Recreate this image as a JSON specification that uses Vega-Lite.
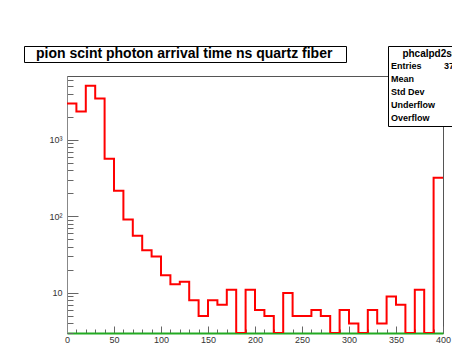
{
  "$schema": "https://vega.github.io/schema/vega-lite/v6.json",
  "width": 376,
  "height": 257,
  "autosize": "none",
  "padding": {"left": 67, "top": 76, "right": 9, "bottom": 14},
  "background": "white",
  "config": {
    "view": {"stroke": "#555555", "strokeWidth": 1},
    "font": "Liberation Sans"
  },
  "layer": [
    {
      "data": {
        "values": [
          {"t": 0, "n": 2980}, {"t": 10, "n": 2340}, {"t": 20, "n": 5070}, {"t": 30, "n": 3460},
          {"t": 40, "n": 565}, {"t": 50, "n": 216}, {"t": 60, "n": 91}, {"t": 70, "n": 56},
          {"t": 80, "n": 36}, {"t": 90, "n": 30}, {"t": 100, "n": 17}, {"t": 110, "n": 13},
          {"t": 120, "n": 14}, {"t": 130, "n": 8}, {"t": 140, "n": 5}, {"t": 150, "n": 8},
          {"t": 160, "n": 7}, {"t": 170, "n": 11}, {"t": 180, "n": 0}, {"t": 190, "n": 11},
          {"t": 200, "n": 6}, {"t": 210, "n": 5}, {"t": 220, "n": 0}, {"t": 230, "n": 10},
          {"t": 240, "n": 5}, {"t": 250, "n": 5}, {"t": 260, "n": 6}, {"t": 270, "n": 5},
          {"t": 280, "n": 0}, {"t": 290, "n": 6}, {"t": 300, "n": 4}, {"t": 310, "n": 0},
          {"t": 320, "n": 6}, {"t": 330, "n": 4}, {"t": 340, "n": 9}, {"t": 350, "n": 7},
          {"t": 360, "n": 0}, {"t": 370, "n": 11}, {"t": 380, "n": 0}, {"t": 390, "n": 320},
          {"t": 400, "n": 320}
        ]
      },
      "mark": {"type": "line", "interpolate": "step-after", "color": "#ff0000", "strokeWidth": 2, "invalid": "show", "clip": true},
      "encoding": {
        "x": {
          "field": "t", "type": "quantitative",
          "scale": {"domain": [0, 400], "nice": false, "zero": false},
          "axis": {
            "title": null,
            "values": [0,10,20,30,40,50,60,70,80,90,100,110,120,130,140,150,160,170,180,190,200,210,220,230,240,250,260,270,280,290,300,310,320,330,340,350,360,370,380,390,400],
            "labelExpr": "datum.value % 50 == 0 ? datum.label : ''",
            "tickSize": {"condition": {"test": "datum.value % 50 == 0", "value": -7}, "value": -4},
            "tickColor": "#666666",
            "domainColor": "#22aa22",
            "domainWidth": 2,
            "labelColor": "#333333",
            "labelFontSize": 9,
            "labelPadding": 9,
            "labelFlush": false,
            "grid": false
          }
        },
        "y": {
          "field": "n", "type": "quantitative",
          "scale": {"type": "log", "domain": [3, 6800], "nice": false, "clamp": true},
          "axis": {
            "title": null,
            "values": [3,4,5,6,7,8,9,10,20,30,40,50,60,70,80,90,100,200,300,400,500,600,700,800,900,1000,2000,3000,4000,5000,6000],
            "labelExpr": "datum.value == 10 ? '10' : datum.value == 100 ? '10²' : datum.value == 1000 ? '10³' : ''",
            "tickSize": {"condition": {"test": "datum.value == 10 || datum.value == 100 || datum.value == 1000", "value": -11}, "value": -6},
            "tickColor": "#666666",
            "domainColor": "#888888",
            "labelColor": "#333333",
            "labelFontSize": 9,
            "labelPadding": 16,
            "grid": false
          }
        }
      }
    },
    {
      "data": {
        "values": [
          {"stat": "Entries\u00a0\u00a0\u00a0\u00a0\u00a0\u00a0\u00a0\u00a0\u00a037\u00a0\u00a0\u00a0\u00a0\u00a0\u00a0\u00a0\u00a0\u00a0\u00a0\u00a0\u200d"},
          {"stat": "Mean"},
          {"stat": "Std Dev"},
          {"stat": "Underflow"},
          {"stat": "Overflow"}
        ]
      },
      "mark": {"type": "point", "opacity": 0},
      "encoding": {
        "color": {
          "field": "stat", "type": "nominal",
          "sort": ["Entries\u00a0\u00a0\u00a0\u00a0\u00a0\u00a0\u00a0\u00a0\u00a037\u00a0\u00a0\u00a0\u00a0\u00a0\u00a0\u00a0\u00a0\u00a0\u00a0\u00a0\u200d", "Mean", "Std Dev", "Underflow", "Overflow"],
          "scale": {"range": ["black"]},
          "legend": {
            "orient": "none", "legendX": 321, "legendY": -30,
            "title": "phcalpd2scint",
            "titleAnchor": "middle",
            "titleFont": "Liberation Sans", "titleFontSize": 10, "titleFontWeight": "bold", "titleColor": "black",
            "titlePadding": 2,
            "labelFont": "Liberation Sans", "labelFontSize": 9, "labelFontWeight": "bold", "labelColor": "black",
            "labelLimit": 400, "labelOffset": -9,
            "symbolSize": 0, "symbolStrokeWidth": 0, "symbolOpacity": 0,
            "rowPadding": 3, "padding": 3,
            "strokeColor": "black", "fillColor": "white"
          }
        }
      }
    },
    {
      "data": {"values": [{"title": "pion scint photon arrival time ns quartz fiber\u00a0\u00a0\u00a0\u200d"}]},
      "mark": {"type": "point", "opacity": 0},
      "encoding": {
        "shape": {
          "field": "title", "type": "nominal",
          "legend": {
            "orient": "none", "legendX": -43, "legendY": -30,
            "title": null,
            "labelFont": "Liberation Sans", "labelFontSize": 14, "labelFontWeight": "bold", "labelColor": "black",
            "labelLimit": 500, "labelOffset": -3,
            "symbolSize": 0, "symbolStrokeWidth": 0, "symbolOpacity": 0,
            "padding": 1,
            "strokeColor": "black", "fillColor": "white"
          }
        }
      }
    }
  ]
}
